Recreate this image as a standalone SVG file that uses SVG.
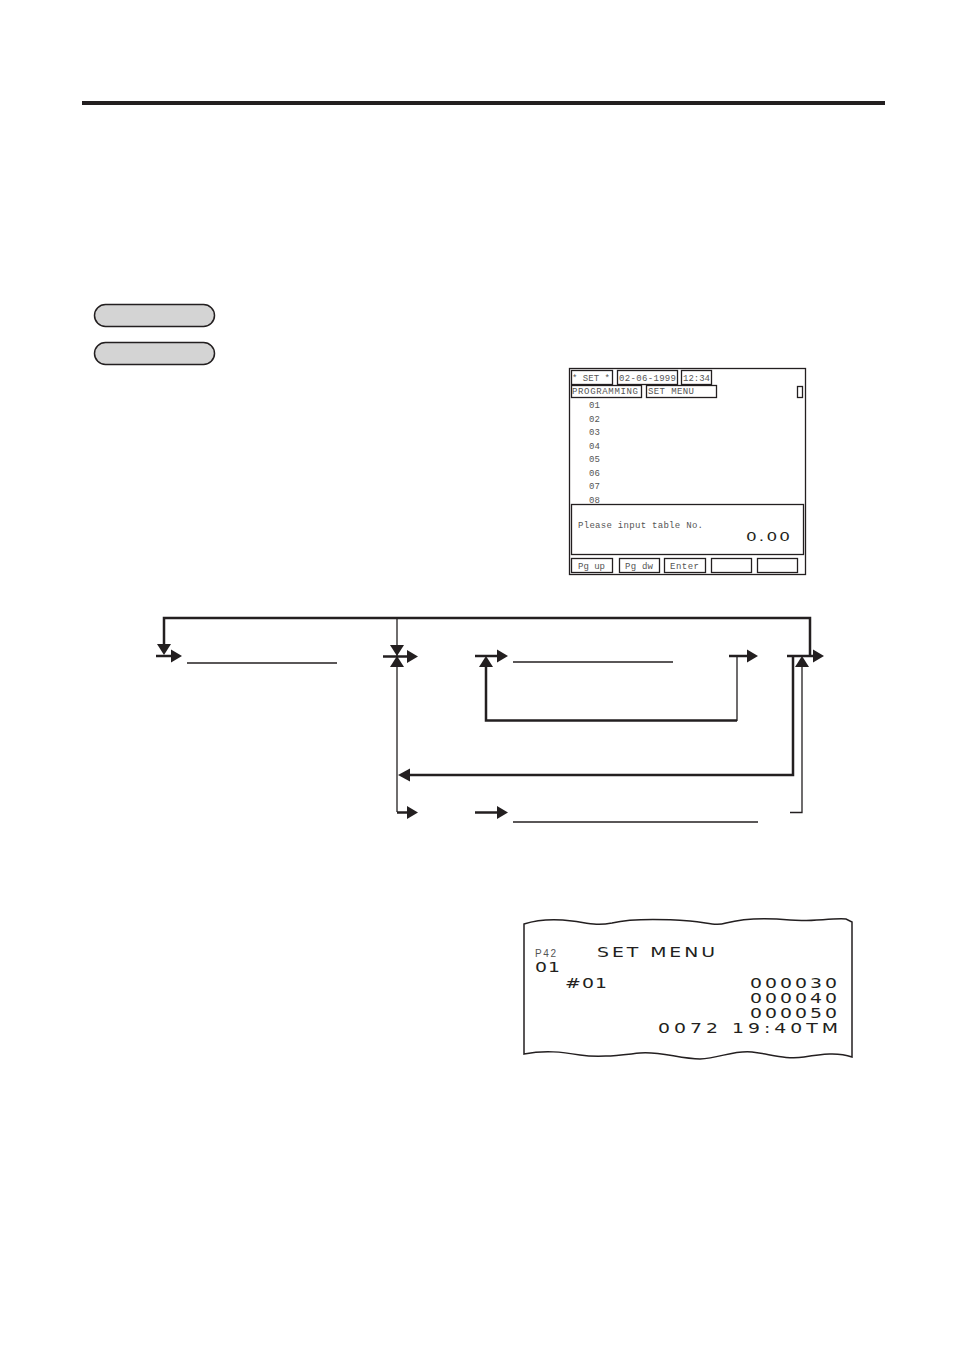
<svg xmlns="http://www.w3.org/2000/svg" xmlns:xlink="http://www.w3.org/1999/xlink" width="954" height="1348" viewBox="0 0 954 1348">
<style>
.thick{fill:none;stroke:#231f20;stroke-width:2.5;stroke-linejoin:miter}
.thin{fill:none;stroke:#231f20;stroke-width:1.3}
.ah{fill:#231f20}
.scr{font-family:"Liberation Mono",monospace;font-size:9px;fill:#555}
.box{fill:none;stroke:#231f20;stroke-width:1.3}
.rc{font-family:"DejaVu Sans",sans-serif;font-size:14.5px;fill:#231f20}
.pill{fill:#d4d4d4;stroke:#231f20;stroke-width:1.5}
</style>
<defs>
<path id="ar" d="M0,-6.5 L11,0 L0,6.5 Z"/>
<path id="ad" d="M-7,0 L7,0 L0,11 Z"/>
</defs>
<rect width="954" height="1348" fill="#fff"/>
<rect x="82" y="101" width="803" height="4" fill="#231f20"/>
<g id="key1"><rect class="pill" x="94.5" y="304.5" width="120" height="22" rx="11"/></g>
<g id="key2"><rect class="pill" x="94.5" y="342.5" width="120" height="22" rx="11"/></g>
<g id="screen">
<rect class="box" x="569.5" y="368.5" width="236" height="206"/>
<rect class="box" x="571.5" y="370.5" width="41" height="14"/>
<rect class="box" x="617.5" y="370.5" width="60" height="14"/>
<rect class="box" x="681.5" y="370.5" width="30" height="14"/>
<rect class="box" x="571.5" y="385.5" width="70" height="12"/>
<rect class="box" x="646.5" y="385.5" width="70" height="12"/>
<rect class="box" x="797.5" y="386.5" width="5" height="11"/>
<text class="scr" x="572" y="381" textLength="38" lengthAdjust="spacing">* SET *</text>
<text class="scr" x="619" y="381" textLength="57" lengthAdjust="spacing">02-06-1999</text>
<text class="scr" x="683" y="381" textLength="27" lengthAdjust="spacing">12:34</text>
<text class="scr" x="572" y="394" textLength="66" lengthAdjust="spacing">PROGRAMMING</text>
<text class="scr" x="648" y="394" textLength="46" lengthAdjust="spacing">SET MENU</text>
<text class="scr" x="589" y="408">01</text>
<text class="scr" x="589" y="421.5">02</text>
<text class="scr" x="589" y="435">03</text>
<text class="scr" x="589" y="448.5">04</text>
<text class="scr" x="589" y="462">05</text>
<text class="scr" x="589" y="475.5">06</text>
<text class="scr" x="589" y="489">07</text>
<text class="scr" x="589" y="502.5">08</text>
<rect class="box" x="571.5" y="504.5" width="232" height="50"/>
<text class="scr" x="578" y="528" textLength="125" lengthAdjust="spacing">Please input table No.</text>
<text transform="translate(746,541) scale(1.35,1)" font-family="DejaVu Sans,sans-serif" font-size="12.5" fill="#231f20" textLength="32.6" lengthAdjust="spacing">0.00</text>
<rect class="box" x="571.5" y="558.5" width="41" height="14"/>
<rect class="box" x="619.5" y="558.5" width="40" height="14"/>
<rect class="box" x="664.5" y="558.5" width="41" height="14"/>
<rect class="box" x="711.5" y="558.5" width="40" height="14"/>
<rect class="box" x="757.5" y="558.5" width="40" height="14"/>
<text class="scr" x="578" y="569" textLength="27" lengthAdjust="spacing">Pg up</text>
<text class="scr" x="625" y="569" textLength="28" lengthAdjust="spacing">Pg dw</text>
<text class="scr" x="670" y="569" textLength="29" lengthAdjust="spacing">Enter</text>
</g>
<g id="field1"><line class="thin" x1="187" y1="663" x2="337" y2="663"/></g>
<g id="field2"><line class="thin" x1="513" y1="662" x2="673" y2="662"/></g>
<g id="field3"><line class="thin" x1="513" y1="822" x2="758" y2="822"/></g>
<g id="connectors">
<path class="thick" d="M164,645 V618 H810 V656"/>
<use href="#ad" class="ah" x="164" y="644"/>
<path class="thick" d="M156,656 H171"/>
<use href="#ar" class="ah" x="171" y="656"/>
<path class="thin" d="M397,618 V812"/>
<use href="#ad" class="ah" x="397" y="645"/>
<path class="ah" d="M390,667 L404,667 L397,656 Z"/>
<path class="thick" d="M383,656.5 H408"/>
<use href="#ar" class="ah" x="407" y="656.5"/>
<path class="thick" d="M475,656 H498"/>
<use href="#ar" class="ah" x="497" y="656"/>
<path class="ah" d="M479,667 L493,667 L486,656 Z"/>
<path class="thick" d="M486,666 V720.5 H737"/>
<path class="thin" d="M737,721 V656 H729"/>
<path class="thick" d="M729,656 H748"/>
<use href="#ar" class="ah" x="747" y="656"/>
<path class="thick" d="M787,656 H813"/>
<use href="#ar" class="ah" x="813" y="656"/>
<path class="ah" d="M795,667 L809,667 L802,656 Z"/>
<path class="thick" d="M793,656 V775 H409"/>
<path class="ah" d="M398,775 L410,768.5 L410,781.5 Z"/>
<path class="thin" d="M802,667 V812.5 H790"/>
<path class="thick" d="M397,812.5 H408"/>
<use href="#ar" class="ah" x="407" y="812.5"/>
<path class="thick" d="M475,812.5 H498"/>
<use href="#ar" class="ah" x="497" y="812.5"/>
</g>
<g id="receipt">
<path fill="none" stroke="#231f20" stroke-width="1.5" d="M524,924 C540,919 556,919 572,921 C588,923 596,926 612,923 C630,919 660,919 690,921 C710,923 716,926 726,923 C745,918 770,918 790,920 C810,922 830,918 846,919 L852,922 L852,1057 C838,1052 822,1054 804,1057 C786,1060 770,1054 752,1052 C734,1050 720,1058 700,1059 C680,1059 660,1051 640,1053 C620,1055 600,1058 580,1055 C562,1052 545,1050 524,1054 Z"/>
<text x="535" y="957" font-family="Liberation Sans,sans-serif" font-size="10" fill="#555" textLength="21" lengthAdjust="spacing">P42</text>
<text class="rc" transform="translate(597,957) scale(1.3,1)" textLength="90.8" lengthAdjust="spacing">SET MENU</text>
<text class="rc" transform="translate(535,972) scale(1.3,1)" textLength="19.2" lengthAdjust="spacing">01</text>
<text class="rc" transform="translate(565,988) scale(1.3,1)" textLength="32.3" lengthAdjust="spacing">#01</text>
<text class="rc" transform="translate(750,988) scale(1.3,1)" textLength="66.9" lengthAdjust="spacing">000030</text>
<text class="rc" transform="translate(750,1003) scale(1.3,1)" textLength="66.9" lengthAdjust="spacing">000040</text>
<text class="rc" transform="translate(750,1018) scale(1.3,1)" textLength="66.9" lengthAdjust="spacing">000050</text>
<text class="rc" transform="translate(658,1033) scale(1.3,1)" textLength="138.5" lengthAdjust="spacing">0072 19:40TM</text>
</g>
</svg>
